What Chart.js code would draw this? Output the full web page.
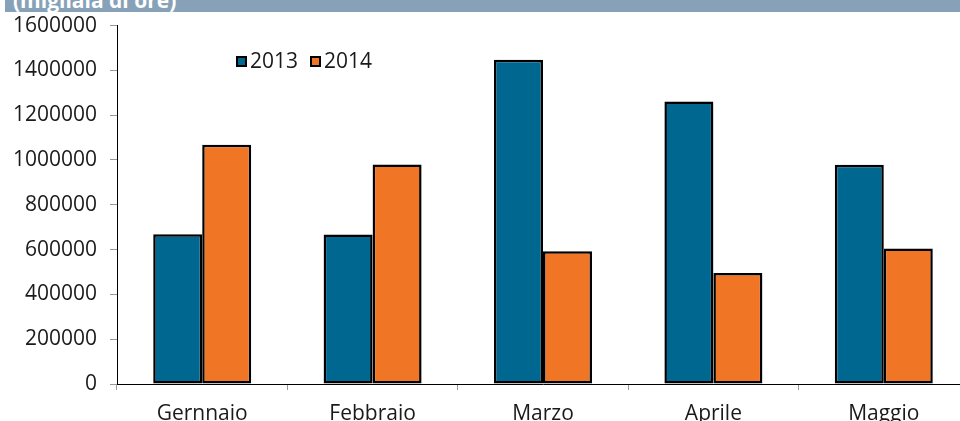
<!DOCTYPE html>
<html>
<head>
<meta charset="utf-8">
<script src="https://cdn.jsdelivr.net/npm/chart.js@4/dist/chart.umd.min.js"></script>
<style>
  html, body { margin: 0; padding: 0; background: #fff; overflow: hidden; }
  #wrap { position: relative; width: 960px; height: 421px; overflow: hidden; }
  #header { position: absolute; left: 5px; top: 0; width: 955px; height: 12px; background: #87a2b8; overflow: hidden; }
  #header span { position: absolute; left: 8px; top: -10px; font: bold 21px "Open Sans"; line-height: 20px; color: #fff; white-space: nowrap; }
  #chartBox { position: absolute; left: 0; top: 0; width: 980px; height: 421px; }
  #legend { position: absolute; left: 236px; top: 48px; font: 21px "Open Sans"; color: #1a1a1a; line-height: 24px; white-space: nowrap; }
  #legend .item { display: inline-block; margin-right: 12px; }
  #legend .box { display: inline-block; width: 7px; height: 7px; border: 2px solid #000; margin-right: 3px; vertical-align: 1px; }
</style>
</head>
<body>
<div id="wrap">
  <div id="chartBox"><canvas id="myChart"></canvas></div>
  <div id="header"><span>(migliaia di ore)</span></div>
  <div id="legend"></div>
</div>
<script>
  // data
  const months = ['Gernnaio', 'Febbraio', 'Marzo', 'Aprile', 'Maggio'];
  const hours2013 = [668000, 667000, 1448000, 1261000, 979000];
  const hours2014 = [1068000, 980000, 593000, 496000, 605000];
  const yTicks = [0, 200000, 400000, 600000, 800000, 1000000, 1200000, 1400000, 1600000];

  const colors = ['#006890', '#f07626'];

  const ctx = document.getElementById('myChart').getContext('2d');
  const myChart = new Chart(ctx, {
    type: 'bar',
    data: {
      labels: months,
      datasets: [
        {
          label: '2013',
          data: hours2013,
          backgroundColor: colors[0],
          borderColor: '#000',
          borderWidth: 2.5,
          borderSkipped: false
        },
        {
          label: '2014',
          data: hours2014,
          backgroundColor: colors[1],
          borderColor: '#000',
          borderWidth: 2.5,
          borderSkipped: false
        }
      ]
    },
    options: {
      responsive: true,
      maintainAspectRatio: false,
      animation: false,
      layout: { padding: { top: 25, right: 11, left: 0, bottom: 0 } },
      datasets: {
        bar: { categoryPercentage: 0.575, barPercentage: 1 }
      },
      plugins: {
        legend: { display: false },
        tooltip: { enabled: false }
      },
      scales: {
        x: {
          grid: { drawOnChartArea: false, tickLength: 6, color: '#999' },
          border: { color: '#000', width: 1, z: 1 },
          ticks: { color: '#1a1a1a', font: { family: 'Open Sans', size: 21 }, padding: 11, maxRotation: 0 },
          afterFit: function(scale) { scale.height = 37; }
        },
        y: {
          min: 0,
          max: 1600000,
          afterBuildTicks: function(scale) { scale.ticks = yTicks.map(v => ({ value: v })); },
          grid: { drawOnChartArea: false, tickLength: 7, color: '#999' },
          border: { color: '#000', width: 1 },
          ticks: {
            color: '#1a1a1a',
            font: { family: 'Open Sans', size: 21 },
            padding: 13,
            callback: function(v) { return String(v); }
          },
          afterFit: function(scale) { scale.width = 117; }
        }
      }
    }
  });

  // legend inside the plot
  const legend = document.getElementById('legend');
  myChart.data.datasets.forEach(function(ds) {
    const item = document.createElement('span');
    item.className = 'item';
    item.innerHTML = '<span class="box" style="background:' + ds.backgroundColor + '"></span>' + ds.label;
    legend.appendChild(item);
  });
</script>
</body>
</html>
